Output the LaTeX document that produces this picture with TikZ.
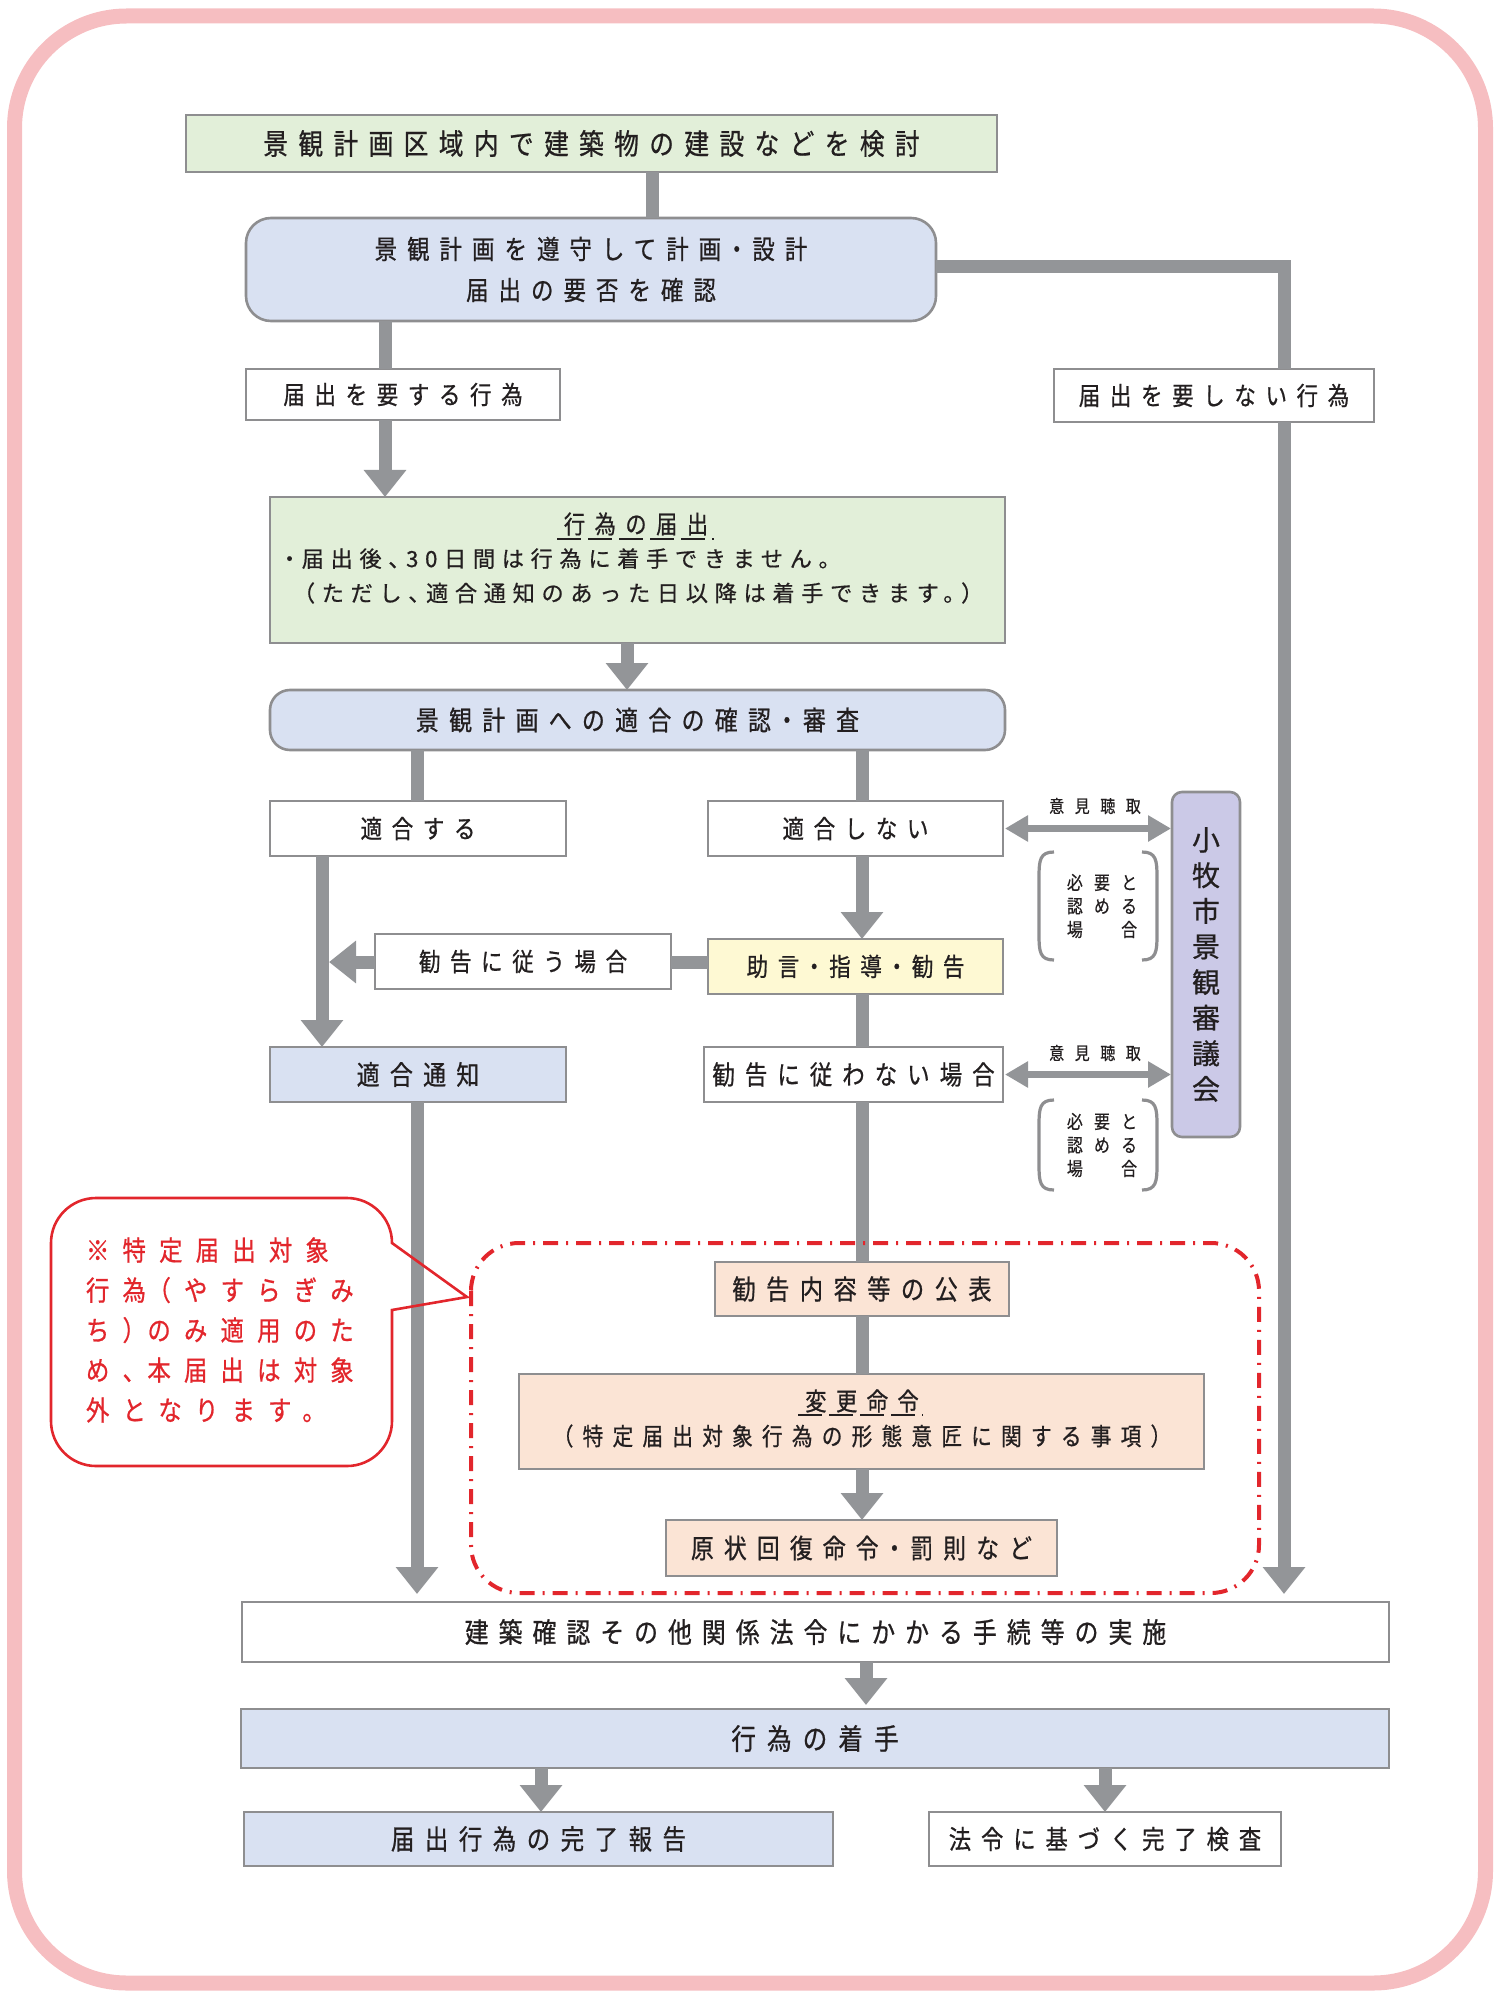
\documentclass[tikz,border=0pt]{standalone}
\usepackage{fontspec}
\usetikzlibrary{arrows.meta}
\newfontfamily\jp[LetterSpace=38,FakeStretch=0.85,FakeBold=0.7,RawFeature=+halt]{Noto Sans CJK JP}
\newfontfamily\jpa[LetterSpace=36,FakeStretch=0.85,FakeBold=0.7,RawFeature=+halt]{Noto Sans CJK JP}
\newfontfamily\jpb[LetterSpace=30,FakeBold=0.6,RawFeature=+halt]{Noto Sans CJK JP}
\newfontfamily\jpn[FakeBold=0.7]{Noto Sans CJK JP}
\newfontfamily\jpw[LetterSpace=60,FakeStretch=0.85,FakeBold=0.5]{Noto Sans CJK JP}
\newfontfamily\jpr[LetterSpace=48,FakeStretch=0.85,FakeBold=0.7,RawFeature=+halt]{Noto Sans CJK JP}
\definecolor{txt}{HTML}{231F20}
\definecolor{bgray}{HTML}{8E8E90}
\definecolor{lgray}{HTML}{939598}
\definecolor{fgreen}{HTML}{E2EFD9}
\definecolor{fblue}{HTML}{D9E1F2}
\definecolor{fyellow}{HTML}{FEF9D3}
\definecolor{fpeach}{HTML}{FBE4D5}
\definecolor{fpurple}{HTML}{CBC9E7}
\definecolor{pinkb}{HTML}{F6BEC1}
\definecolor{redc}{HTML}{E2262C}
\newcommand\jfs[1]{\fontsize{#1}{#1}\selectfont}
\newcommand\mybox[7]{\node[#6, minimum width={(#4-#2)*0.5pt}, minimum height={(#5-#3)*0.5pt}] (#1) at ({(#2+#4)/2},{(#3+#5)/2}) {#7};}
\tikzset{
 bx/.style={draw=bgray, line width=1.3pt, inner sep=0pt, outer sep=0pt, text=txt, font=\jp\jfs{12.65}},
 wbox/.style={bx, fill=white},
 gbox/.style={bx, fill=fgreen},
 bbox/.style={bx, fill=fblue},
 ybox/.style={bx, fill=fyellow},
 pbox/.style={bx, fill=fpeach},
 conn/.style={draw=lgray, line width=6.5pt},
 arr/.style={conn, -{Triangle[width=20.5pt,length=13.5pt]}},
 darr/.style={draw=lgray, line width=3.5pt, {Triangle[width=12.5pt,length=11.5pt]}-{Triangle[width=12.5pt,length=11.5pt]}},
 brk/.style={draw=bgray, line width=1.6pt},
 lbl/.style={inner sep=0pt, outer sep=0pt, text=txt},
}
\begin{document}
\begin{tikzpicture}[x=0.5pt,y=-0.5pt]
\useasboundingbox (0,0) rectangle (1496,2000);
\draw[pinkb, line width=7.5pt, rounded corners=56pt] (14.5,16) rectangle (1485.5,1983);

% boxes
\mybox{n1}{186}{115}{997}{172}{gbox,font=\jpa\jfs{14.5}}{景観計画区域内で建築物の建設などを検討}
\mybox{n2}{246}{218}{936}{321}{bbox,rounded corners=12.5pt,align=center,font=\jp\fontsize{13.2}{20.5}\selectfont}{景観計画を遵守して計画・設計\\届出の要否を確認}
\mybox{n3}{246}{369}{560}{420}{wbox}{届出を要する行為}
\mybox{n4}{1054}{369}{1374}{422}{wbox}{届出を要しない行為}
\mybox{n5}{270}{497}{1005}{643}{gbox}{}
\mybox{n6}{270}{690}{1005}{750}{bbox,rounded corners=10pt,font=\jp\jfs{13.5}}{景観計画への適合の確認・審査}
\mybox{n7}{270}{801}{566}{856}{wbox}{適合する}
\mybox{n8}{708}{801}{1003}{856}{wbox}{適合しない}
\mybox{n9}{708}{939}{1003}{994}{ybox}{助言・指導・勧告}
\mybox{n10}{375}{934}{671}{989}{wbox}{勧告に従う場合}
\mybox{n11}{270}{1047}{566}{1102}{bbox,font=\jp\jfs{13.5}}{適合通知}
\mybox{n12}{704}{1047}{1003}{1102}{wbox,font=\jp\jfs{13.2}}{勧告に従わない場合}
\mybox{n13}{715}{1262}{1009}{1316}{pbox,font=\jp\jfs{13.7}}{勧告内容等の公表}
\mybox{n14}{519}{1374}{1204}{1469}{pbox}{}
\mybox{n15}{666}{1520}{1057}{1576}{pbox,font=\jp\jfs{13.4}}{原状回復命令・罰則など}
\mybox{n16}{242}{1602}{1389}{1662}{wbox,font=\jpa\jfs{14}}{建築確認その他関係法令にかかる手続等の実施}
\mybox{n17}{241}{1709}{1389}{1768}{bbox,font=\jp\jfs{14.5}}{行為の着手}
\mybox{n18}{244}{1812}{833}{1866}{bbox,font=\jp\jfs{13.8}}{届出行為の完了報告}
\mybox{n19}{929}{1812}{1281}{1866}{wbox,font=\jp\jfs{13.1}}{法令に基づく完了検査}
\mybox{council}{1172}{792}{1240}{1137}{bx,fill=fpurple,rounded corners=5pt,align=center,font=\jpn\fontsize{14}{17.8}\selectfont}{小\\牧\\市\\景\\観\\審\\議\\会}

% texts inside 行為の届出
\node[lbl, font=\jp\jfs{12.5}] (n5a) at (636,524) {行為の届出};
\draw[txt, line width=0.7pt, dash pattern=on 12pt off 3.5pt] (557,539) -- (714,539);
\node[lbl, font=\jpb\jfs{11.1}, anchor=west] (n5b) at (284,558.6) {・届出後、30日間は行為に着手できません。};
\node[lbl, font=\jpb\jfs{11.1}, anchor=west] (n5c) at (304,593) {（ただし、適合通知のあった日以降は着手できます。）};

% texts inside 変更命令
\node[lbl, font=\jp\jfs{12.5}] (n14a) at (862,1401) {変更命令};
\draw[txt, line width=0.7pt, dash pattern=on 12pt off 3.5pt] (798,1415) -- (923,1415);
\node[lbl, font=\jp\jfs{12.15}] (n14b) at (862,1436) {（特定届出対象行為の形態意匠に関する事項）};

% column coordinates
\coordinate (x652) at (652,0);
\coordinate (x385) at (385,0);
\coordinate (x627) at (627,0);
\coordinate (x417) at (417,0);
\coordinate (x862) at (862,0);
\coordinate (x322) at (322,0);
\coordinate (x866) at (866,0);
\coordinate (x541) at (541,0);
\coordinate (x1105) at (1105,0);
\coordinate (r1) at (1284,266.5);
\coordinate (y962) at (0,962);
\coordinate (tipL) at (329,962);

% connectors
\draw[conn] (n1.south -| x652) -- (n2.north -| x652);
\draw[conn] (n2.east |- r1) -- (r1) -- (n4.north -| r1);
\draw[arr, shorten >=4pt] (n4.south -| r1) -- (n16.north -| r1);
\draw[conn] (n2.south -| x385) -- (n3.north -| x385);
\draw[arr] (n3.south -| x385) -- (n5.north -| x385);
\draw[arr] (n5.south -| x627) -- (n6.north -| x627);
\draw[conn] (n6.south -| x417) -- (n7.north -| x417);
\draw[conn] (n6.south -| x862) -- (n8.north -| x862);
\draw[arr] (n8.south -| x862) -- (n9.north -| x862);
\draw[conn] (n9.west |- y962) -- (n10.east |- y962);
\draw[arr] (n10.west |- y962) -- (tipL);
\draw[arr] (n7.south -| x322) -- (n11.north -| x322);
\draw[conn] (n9.south -| x862) -- (n12.north -| x862);
\draw[conn] (n12.south -| x862) -- (n13.north -| x862);
\draw[conn] (n13.south -| x862) -- (n14.north -| x862);
\draw[arr] (n14.south -| x862) -- (n15.north -| x862);
\draw[arr, shorten >=4pt] (n11.south -| x417) -- (n16.north -| x417);
\draw[arr, shorten >=2pt] (n16.south -| x866) -- (n17.north -| x866);
\draw[arr] (n17.south -| x541) -- (n18.north -| x541);
\draw[arr] (n17.south -| x1105) -- (n19.north -| x1105);

% council arrows
\draw[darr, shorten <=1pt, shorten >=0.5pt] (n8.east) -- (n8.east -| council.west);
\draw[darr, shorten <=1pt, shorten >=0.5pt] (n12.east) -- (n12.east -| council.west);
\node[lbl, font=\jpw\jfs{8.8}] (lab1) at (1095,806) {意見聴取};
\node[lbl, font=\jpw\jfs{8.8}] (lab2) at (1095,1053) {意見聴取};

% brackets
\draw[brk] (1054,852) .. controls (1040,852) and (1039,860) .. (1039,877) -- (1039,935) .. controls (1039,952) and (1040,960) .. (1054,960);
\draw[brk] (1142,852) .. controls (1156,852) and (1157,860) .. (1157,877) -- (1157,935) .. controls (1157,952) and (1156,960) .. (1142,960);
\node[lbl, align=center, font=\jpw\fontsize{9.35}{11.75}\selectfont] (cond1) at (1102,906) {必要と\\認める\\場　合};
\draw[brk] (1054,1100) .. controls (1040,1100) and (1039,1108) .. (1039,1125) -- (1039,1165) .. controls (1039,1182) and (1040,1190) .. (1054,1190);
\draw[brk] (1142,1100) .. controls (1156,1100) and (1157,1108) .. (1157,1125) -- (1157,1165) .. controls (1157,1182) and (1156,1190) .. (1142,1190);
\node[lbl, align=center, font=\jpw\fontsize{9.35}{11.75}\selectfont] (cond2) at (1102,1145) {必要と\\認める\\場　合};

% red dash-dot region
\draw[redc, line width=2pt, dash pattern=on 7.5pt off 4pt on 1pt off 4pt, rounded corners=24pt] (471,1243) rectangle (1259,1593);

% callout
\draw[redc, line width=1.3pt] (96,1198) -- (347,1198) arc[start angle=-90,end angle=0,radius=45] -- (467,1297) -- (392,1310) -- (392,1421) arc[start angle=0,end angle=90,radius=45] -- (96,1466) arc[start angle=90,end angle=180,radius=45] -- (51,1243) arc[start angle=180,end angle=270,radius=45] -- cycle;
\node[lbl, text=redc, font=\jpr\fontsize{13.75}{20}\selectfont, align=left, anchor=west] (note) at (86,1330) {※特定届出対象\\行為（やすらぎみ\\ち）のみ適用のた\\め、本届出は対象\\外となります。};
\end{tikzpicture}
\end{document}
